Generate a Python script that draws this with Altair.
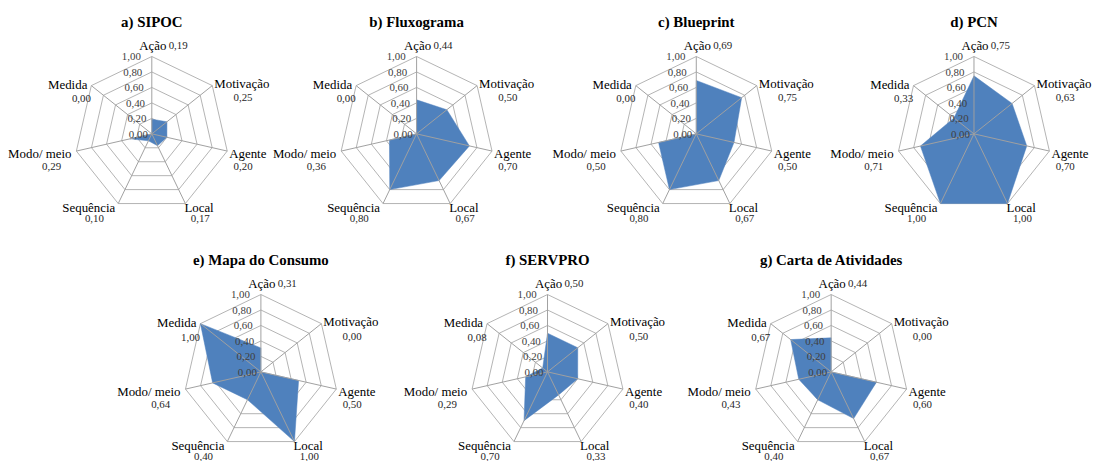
import altair as alt
import pandas as pd
import numpy as np

# ---------------- data ----------------
categories = ["Ação", "Motivação", "Agente", "Local", "Sequência", "Modo/ meio", "Medida"]
titles = ["a) SIPOC", "b) Fluxograma", "c) Blueprint", "d) PCN",
          "e) Mapa do Consumo", "f) SERVPRO", "g) Carta de Atividades"]
sipoc = [0.19, 0.25, 0.20, 0.17, 0.10, 0.29, 0.00]
fluxograma = [0.44, 0.50, 0.70, 0.67, 0.80, 0.36, 0.00]
blueprint = [0.69, 0.75, 0.50, 0.67, 0.80, 0.50, 0.00]
pcn = [0.75, 0.63, 0.70, 1.00, 1.00, 0.71, 0.33]
mapa_consumo = [0.31, 0.00, 0.50, 1.00, 0.40, 0.64, 1.00]
servpro = [0.50, 0.50, 0.40, 0.33, 0.70, 0.29, 0.08]
carta_atividades = [0.44, 0.00, 0.60, 0.67, 0.40, 0.43, 0.67]
series = [sipoc, fluxograma, blueprint, pcn, mapa_consumo, servpro, carta_atividades]
tick_values = [0.0, 0.2, 0.4, 0.6, 0.8, 1.0]
tick_labels = ["0,00", "0,20", "0,40", "0,60", "0,80", "1,00"]

# ---------------- layout (page pixels) ----------------
centers = [(152, 133), (419, 133), (701, 133), (981, 133),
           (262, 373), (551, 373), (837, 373)]
R = 78
# per category: label dx, dy, align ; value dx, dy, align (relative to outer vertex)
lab_off = [(1, -11, "center", 17, -11, "left"),
           (2, -2, "left", 31, 13, "center"),
           (2, 3, "left", 16, 16, "center"),
           (-1, 5, "left", 15, 16, "center"),
           (-3, 5, "right", -24, 16, "center"),
           (-5, 3, "right", -25, 16, "center"),
           (-4, -1, "right", -10, 14, "center")]

n = len(categories)
theta = [2 * np.pi * k / n for k in range(n)]

def pt(p, k, r):
    cx, cy = centers[p]
    return cx + R * r * np.sin(theta[k]), cy - R * r * np.cos(theta[k])

rings, poly, spokes, ticks, labs, titl = [], [], [], [], [], []
for p, vals in enumerate(series):
    cx, cy = centers[p]
    for lev in tick_values[1:]:
        for i in range(n + 1):
            x, y = pt(p, i % n, lev)
            rings.append(dict(panel=p, level=lev, idx=i, x=x, y=y))
    for i in range(n + 1):
        x, y = pt(p, i % n, vals[i % n])
        poly.append(dict(panel=p, idx=i, x=x, y=y))
    for k in range(n):
        x, y = pt(p, k, 1.0)
        spokes.append(dict(panel=p, x=cx, y=cy, x2=x, y2=y))
        ldx, ldy, lal, vdx, vdy, val = lab_off[k]
        labs.append(dict(panel=p, kind="cat", text=categories[k], x=x + ldx, y=y + ldy, align=lal))
        labs.append(dict(panel=p, kind="val", text=f"{vals[k]:.2f}".replace(".", ","),
                         x=x + vdx, y=y + vdy, align=val))
    for tv, tl in zip(tick_values, tick_labels):
        ticks.append(dict(panel=p, text=tl, x=cx - 4 - 7 * tv, y=cy - R * tv + 1))
    titl.append(dict(panel=p, text=titles[p], x=cx, y=cy - 113))

rings = pd.DataFrame(rings)
poly = pd.DataFrame(poly)
spokes = pd.DataFrame(spokes)
ticks = pd.DataFrame(ticks)
labs = pd.DataFrame(labs)
titl = pd.DataFrame(titl)

W, H = 1084, 453
xs = alt.Scale(domain=[8, 8 + W], nice=False, zero=False)
ys = alt.Scale(domain=[8, 8 + H], nice=False, zero=False, reverse=True)
X = lambda f="x": alt.X(f"{f}:Q", scale=xs, axis=None)
Y = lambda f="y": alt.Y(f"{f}:Q", scale=ys, axis=None)

FONT = "'Liberation Serif', 'Times New Roman', 'DejaVu Serif', serif"

ring_layer = alt.Chart(rings).mark_line(color="#B3B3B3", strokeWidth=1).encode(
    x=X(), y=Y(), detail=["panel:N", "level:N"], order="idx:Q")

fill_layer = alt.Chart(poly).mark_line(color="#4F81BD", fill="#4F81BD", strokeWidth=0.5).encode(
    x=X(), y=Y(), detail="panel:N", order="idx:Q")

spoke_layer = alt.Chart(spokes).mark_rule(color="#A0A0A0", strokeWidth=1).encode(
    x=X(), y=Y(), x2="x2:Q", y2="y2:Q")

tick_layer = alt.Chart(ticks).mark_text(font=FONT, fontSize=11, color="#404040",
                                        align="right", baseline="middle").encode(
    x=X(), y=Y(), text="text:N")

text_layers = []
for kind, size, col in [("cat", 13, "#000000"), ("val", 11, "#262626")]:
    for al in ["left", "center", "right"]:
        text_layers.append(
            alt.Chart(labs).transform_filter(
                (alt.datum.kind == kind) & (alt.datum.align == al)
            ).mark_text(font=FONT, fontSize=size, color=col, align=al, baseline="middle").encode(
                x=X(), y=Y(), text="text:N"))

title_layer = alt.Chart(titl).mark_text(font=FONT, fontSize=15, fontWeight="bold", color="#000000",
                                        align="center", baseline="middle").encode(
    x=X(), y=Y(), text="text:N")

chart = alt.layer(ring_layer, fill_layer, spoke_layer, tick_layer, *text_layers, title_layer).properties(
    width=W, height=H, padding=0, background="white"
).configure_view(stroke=None)

chart.save("out.html", embed_options={"renderer": "svg", "actions": False})
